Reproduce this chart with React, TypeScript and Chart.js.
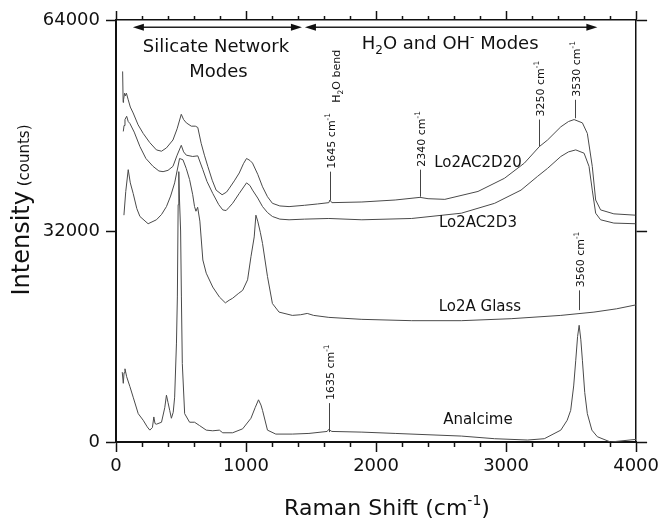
import React, { useEffect, useRef } from 'react';
import { Chart, registerables } from 'chart.js';

Chart.register(...registerables);

// ---------- data ----------
const seriesNames = ['Lo2AC2D20', 'Lo2AC2D3', 'Lo2A Glass', 'Analcime'];

const d20X = [51, 55, 58, 66, 72, 80, 94, 110, 132, 170, 209, 260, 311, 350, 388, 438, 470, 502, 520, 541, 579, 610, 629, 655, 680, 706, 740, 770, 816, 850, 872, 910, 948, 980, 1004, 1030, 1050, 1090, 1127, 1165, 1203, 1260, 1331, 1450, 1550, 1637, 1645, 1660, 1891, 2147, 2338, 2400, 2529, 2784, 2988, 3141, 3256, 3319, 3421, 3480, 3523, 3587, 3625, 3663, 3689, 3727, 3829, 3995];
const d20Y = [56200, 51500, 51900, 52900, 52500, 52900, 51900, 50800, 49900, 48100, 46800, 45400, 44300, 44100, 44600, 45800, 47500, 49700, 48900, 48400, 47900, 47900, 47700, 45300, 43500, 41800, 39700, 38200, 37500, 37900, 38500, 39600, 40800, 42200, 43000, 42700, 42300, 40600, 38700, 37200, 36200, 35800, 35700, 35900, 36100, 36300, 36700, 36300, 36400, 36700, 37100, 36900, 36800, 38000, 40000, 42300, 44800, 45800, 47800, 48600, 48900, 48400, 46800, 41800, 36700, 35200, 34600, 34400];

const d3X = [56, 62, 69, 82, 94, 107, 140, 184, 230, 285, 330, 362, 400, 438, 470, 502, 520, 541, 590, 629, 668, 700, 744, 790, 821, 847, 870, 897, 948, 1004, 1030, 1050, 1090, 1127, 1165, 1203, 1260, 1331, 1450, 1637, 1891, 2274, 2656, 2912, 3115, 3243, 3319, 3421, 3480, 3536, 3600, 3638, 3663, 3689, 3727, 3829, 3995];
const d3Y = [47100, 48000, 48900, 49400, 48600, 48300, 47000, 44800, 43000, 41800, 41100, 41000, 41200, 41800, 43500, 45000, 44000, 43500, 43300, 43400, 41300, 39500, 37700, 36000, 35200, 35100, 35600, 36200, 37700, 39300, 38900, 38200, 37000, 35700, 34800, 34200, 33800, 33700, 33800, 33900, 33700, 33900, 34700, 36200, 38200, 40300, 41500, 43300, 44000, 44300, 43800, 41800, 38200, 34700, 33700, 33200, 33100];

const glassX = [61, 75, 94, 110, 132, 160, 184, 247, 311, 350, 388, 420, 451, 489, 515, 540, 566, 590, 604, 615, 628, 645, 668, 694, 744, 795, 841, 870, 897, 940, 974, 1012, 1038, 1063, 1076, 1090, 1110, 1127, 1165, 1203, 1254, 1356, 1420, 1471, 1520, 1637, 1891, 2274, 2656, 3039, 3421, 3676, 3850, 4000];
const glassY = [34400, 38000, 41300, 39300, 37700, 35400, 34200, 33100, 33700, 34500, 35700, 37300, 39300, 43000, 42800, 41500, 39800, 37500, 35700, 35000, 35600, 33500, 27600, 25600, 23500, 22000, 21100, 21500, 21800, 22500, 23000, 24600, 28100, 31100, 34400, 33500, 31800, 30100, 25100, 21000, 19700, 19200, 19300, 19500, 19200, 18900, 18600, 18400, 18400, 18700, 19200, 19700, 20200, 20800];

const analX = [48, 56, 62, 69, 82, 107, 132, 171, 209, 240, 260, 280, 291, 300, 311, 350, 375, 388, 400, 413, 426, 440, 451, 465, 472, 478, 483, 488, 497, 503, 510, 528, 566, 604, 642, 694, 744, 795, 821, 897, 974, 1038, 1070, 1096, 1115, 1127, 1165, 1229, 1356, 1484, 1624, 1635, 1660, 1891, 2147, 2656, 2912, 3166, 3294, 3421, 3470, 3497, 3520, 3536, 3550, 3562, 3575, 3587, 3605, 3625, 3660, 3702, 3803, 4000];
const analY = [10600, 8900, 10500, 11100, 9900, 8400, 6800, 4300, 3300, 2300, 1800, 2200, 3800, 2800, 2700, 3000, 5200, 7100, 6000, 4800, 3600, 4500, 6800, 15000, 22000, 36000, 41000, 37000, 32000, 22000, 11900, 4300, 3000, 3000, 2500, 1800, 1700, 1800, 1400, 1400, 2000, 3600, 5200, 6400, 5600, 4800, 1800, 1200, 1200, 1300, 1600, 1900, 1600, 1500, 1300, 900, 500, 300, 500, 1800, 3300, 4800, 8500, 12400, 16000, 17700, 15500, 12400, 7500, 4300, 1800, 800, 0, 400];

const xTickLabels = ['0', '1000', '2000', '3000', '4000'];
const yTickLabels = ['0', '32000', '64000'];

// peak markers (annotation values)
const peakNums = ['1645', '2340', '3250', '3530', '3560', '1635'];
const peakX = [1645, 2340, 3250, 3530, 3560, 1635];
const peakFrom = [36700, 37200, 44800, 49100, 20000, 1500];
const peakTo = [41000, 41300, 48900, 51900, 23000, 5900];

const FONT = '"DejaVu Sans", Verdana, sans-serif';

type Part = { t: string; size: number; dy?: number };

function partsWidth(ctx: CanvasRenderingContext2D, parts: Part[]) {
  let w = 0;
  for (const p of parts) {
    ctx.font = `${p.size}px ${FONT}`;
    w += ctx.measureText(p.t).width;
  }
  return w;
}

function drawParts(ctx: CanvasRenderingContext2D, parts: Part[], x: number, y: number, rot: number, align: 'left' | 'center', baseOff = 0) {
  ctx.save();
  ctx.translate(x, y);
  ctx.rotate(rot);
  ctx.textBaseline = 'alphabetic';
  ctx.textAlign = 'left';
  let cx = align === 'center' ? -partsWidth(ctx, parts) / 2 : 0;
  for (const p of parts) {
    ctx.font = `${p.size}px ${FONT}`;
    ctx.fillText(p.t, cx, baseOff + (p.dy || 0));
    cx += ctx.measureText(p.t).width;
  }
  ctx.restore();
}

function arrow(ctx: CanvasRenderingContext2D, x1: number, x2: number, y: number) {
  ctx.lineWidth = 1.5;
  ctx.beginPath();
  ctx.moveTo(x1 + 6, y);
  ctx.lineTo(x2 - 6, y);
  ctx.stroke();
  ctx.beginPath();
  ctx.moveTo(x1, y);
  ctx.lineTo(x1 + 11, y - 3.5);
  ctx.lineTo(x1 + 11, y + 3.5);
  ctx.closePath();
  ctx.fill();
  ctx.beginPath();
  ctx.moveTo(x2, y);
  ctx.lineTo(x2 - 11, y - 3.5);
  ctx.lineTo(x2 - 11, y + 3.5);
  ctx.closePath();
  ctx.fill();
}

const annotPlugin = {
  id: 'annot',
  afterDraw(chart: any) {
    const ctx: CanvasRenderingContext2D = chart.ctx;
    const xs = chart.scales.x;
    const ys = chart.scales.y;
    const X = (v: number) => xs.getPixelForValue(v);
    const Y = (v: number) => ys.getPixelForValue(v);
    ctx.save();
    ctx.fillStyle = '#111';
    ctx.strokeStyle = '#222';

    // region arrows
    arrow(ctx, X(130), X(1430), Y(62900));
    arrow(ctx, X(1453), X(3702), Y(62900));

    // region titles
    drawParts(ctx, [{ t: 'Silicate Network', size: 18 }], X(769), Y(60100), 0, 'center', 6.5);
    drawParts(ctx, [{ t: 'Modes', size: 18 }], X(788), Y(56300), 0, 'center', 6.5);
    drawParts(ctx, [
      { t: 'H', size: 18 },
      { t: '2', size: 12, dy: 5 },
      { t: 'O and OH', size: 18 },
      { t: '-', size: 12, dy: -8 },
      { t: ' Modes', size: 18 },
    ], X(2570), Y(60560), 0, 'center', 6.5);

    // series labels
    const lx = [2784, 2784, 2799, 2784];
    const ly = [42600, 33500, 20760, 3600];
    seriesNames.forEach((n, i) => {
      drawParts(ctx, [{ t: n, size: 15 }], X(lx[i]), Y(ly[i]), 0, 'center', 5.5);
    });

    // peak markers
    ctx.lineWidth = 1;
    ctx.strokeStyle = '#444';
    peakNums.forEach((n, i) => {
      const px = Math.round(X(peakX[i])) + 0.5;
      const y1 = Y(peakFrom[i]);
      const y2 = Y(peakTo[i]);
      ctx.beginPath();
      ctx.moveTo(px, y1);
      ctx.lineTo(px, y2);
      ctx.stroke();
      drawParts(ctx, [
        { t: n + ' cm', size: 11 },
        { t: '-1', size: 7.5, dy: -5 },
      ], px, y2 - 3, -Math.PI / 2, 'left', 4);
    });
    // H2O bend
    drawParts(ctx, [
      { t: 'H', size: 11 },
      { t: '2', size: 7.5, dy: 3 },
      { t: 'O bend', size: 11 },
    ], X(1690), Y(51450), -Math.PI / 2, 'left', 4);

    // axis titles
    drawParts(ctx, [
      { t: 'Raman Shift (cm', size: 22 },
      { t: '-1', size: 14, dy: -10 },
      { t: ')', size: 22 },
    ], 387, 515, 0, 'center');
    drawParts(ctx, [
      { t: 'Intensity', size: 24 },
      { t: ' (counts)', size: 15 },
    ], 29, 210, -Math.PI / 2, 'center');

    ctx.restore();
  },
};

export default function App() {
  const ref = useRef<HTMLCanvasElement | null>(null);
  useEffect(() => {
    if (!ref.current) return;
    const mk = (xa: number[], ya: number[]) => xa.map((x, i) => ({ x, y: ya[i] }));
    const lineStyle = { borderColor: '#4a4a4a', borderWidth: 1, pointRadius: 0, tension: 0, fill: false };
    const xTick = (v: any) => (xTickLabels.includes(String(v)) ? String(v) : '');
    const minorDashBottom = (c: any) => (c.tick && c.tick.value % 1000 === 0 ? [] : [4, 30]);
    const minorDashTop = (c: any) => (c.tick && c.tick.value % 1000 === 0 ? [] : [0, 5, 4, 30]);
    const chart = new Chart(ref.current, {
      type: 'line',
      data: {
        datasets: [
          { label: seriesNames[0], data: mk(d20X, d20Y), ...lineStyle },
          { label: seriesNames[1], data: mk(d3X, d3Y), ...lineStyle },
          { label: seriesNames[2], data: mk(glassX, glassY), ...lineStyle },
          { label: seriesNames[3], data: mk(analX, analY), ...lineStyle },
        ],
      },
      options: {
        animation: false,
        responsive: false,
        events: [],
        layout: { padding: 0 },
        plugins: { legend: { display: false }, tooltip: { enabled: false }, title: { display: false } },
        scales: {
          x: {
            type: 'linear',
            position: 'bottom',
            min: 0,
            max: 4000,
            afterFit: (s: any) => { s.height = 79; },
            border: { display: true, color: '#111', width: 2 },
            grid: { drawOnChartArea: false, tickLength: 10, tickColor: '#111', tickWidth: 1.5, tickBorderDash: minorDashBottom },
            ticks: { stepSize: 200, autoSkip: false, maxRotation: 0, padding: 4, color: '#111', font: { family: FONT, size: 18 }, callback: xTick },
          },
          x2: {
            type: 'linear',
            position: 'top',
            min: 0,
            max: 4000,
            afterFit: (s: any) => { s.height = 20; },
            border: { display: true, color: '#111', width: 1.5 },
            grid: { drawOnChartArea: false, tickLength: 9, tickColor: '#111', tickWidth: 1.5, tickBorderDash: minorDashTop },
            ticks: { stepSize: 200, autoSkip: false, display: false },
          },
          y: {
            type: 'linear',
            position: 'left',
            min: 0,
            max: 64000,
            afterFit: (s: any) => { s.width = 116; },
            border: { display: true, color: '#111', width: 2 },
            grid: { drawOnChartArea: false, tickLength: 10, tickColor: '#111', tickWidth: 1.5 },
            ticks: {
              stepSize: 32000,
              padding: 6,
              color: '#111',
              font: { family: FONT, size: 18 },
              callback: (v: any) => (yTickLabels.includes(String(v)) ? String(v) : ''),
            },
          },
          y2: {
            type: 'linear',
            position: 'right',
            min: 0,
            max: 64000,
            afterFit: (s: any) => { s.width = 24; },
            border: { display: true, color: '#111', width: 1.5 },
            grid: { drawOnChartArea: false, tickLength: 11, tickColor: '#111', tickWidth: 1.5 },
            ticks: { stepSize: 32000, display: false },
          },
        },
      },
      plugins: [annotPlugin],
    } as any);
    return () => chart.destroy();
  }, []);
  return (
    <div style={{ position: 'fixed', left: 0, top: 0, width: 663, height: 521, background: '#fff' }}>
      <canvas ref={ref} width={663} height={521} style={{ width: 663, height: 521, display: 'block' }} />
    </div>
  );
}
